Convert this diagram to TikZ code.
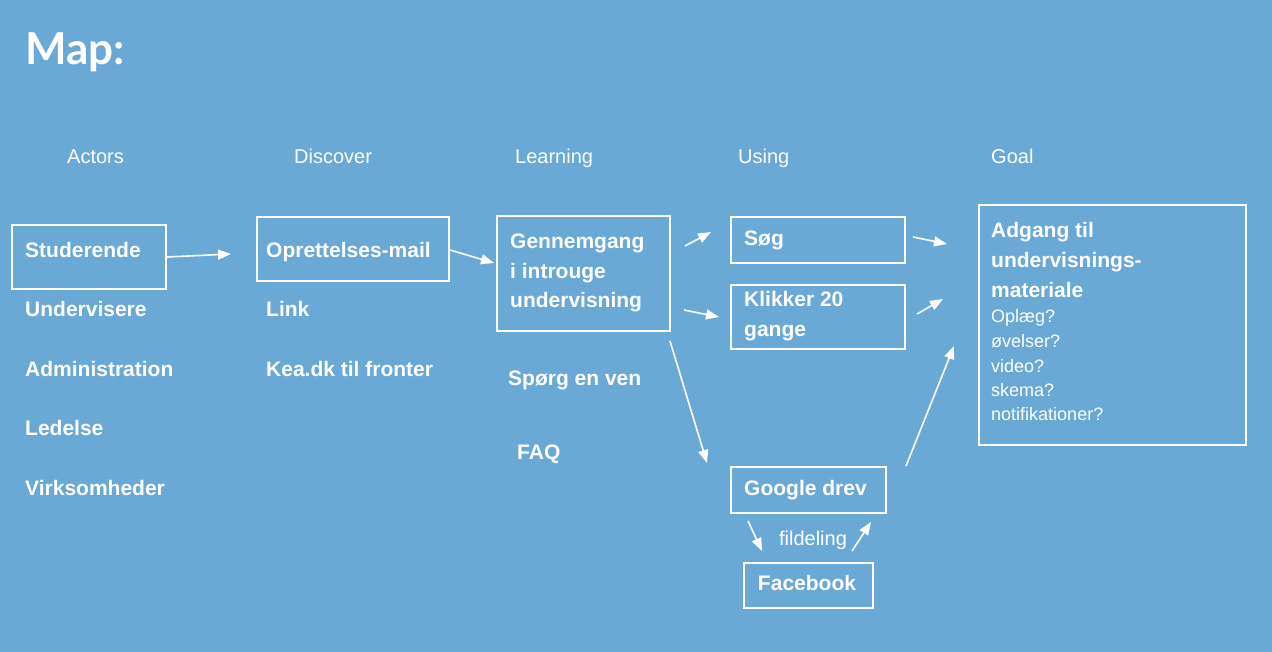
\documentclass[tikz,border=0pt]{standalone}
\usepackage{fontspec}
\setmainfont{Liberation Sans}
\newfontfamily\titlefont{Lato}
\usetikzlibrary{arrows.meta}
\definecolor{bgblue}{RGB}{106,168,214}
\tikzset{
  box/.style={draw=white, line width=1.6pt, inner sep=0, anchor=north west},
  bt/.style={text=white, font=\fontsize{21}{25}\selectfont\bfseries, inner sep=0, anchor=base west},
  ht/.style={text=white, font=\fontsize{20}{24}\selectfont, inner sep=0, anchor=base west},
  st/.style={text=white, font=\fontsize{18}{22}\selectfont, inner sep=0, anchor=base west},
  arr/.style={draw=white, line width=1.6pt, -{Triangle[length=13pt,width=10pt]}},
}
\begin{document}
\begin{tikzpicture}[x=1pt,y=-1pt]
\fill[bgblue] (0,0) rectangle (1272,652);
\useasboundingbox (0,0) rectangle (1272,652);

\node[text=white, font=\titlefont\fontsize{44}{50}\selectfont\bfseries, inner sep=0, anchor=base west] (title) at (25,65) {Map:};

% headers
\node[ht] (hact) at (67,164) {Actors};
\node[ht] (hdis) at (294,164) {Discover};
\node[ht] (hlea) at (515,164) {Learning};
\node[ht] (huse) at (738,164) {Using};
\node[ht] (hgoal) at (991,164) {Goal};

% boxes
\node[box, minimum width=154, minimum height=64] (studbox) at (11,224) {};
\node[box, minimum width=192, minimum height=64] (oprbox) at (256,216) {};
\node[box, minimum width=173, minimum height=115] (genbox) at (496,215) {};
\node[box, minimum width=174, minimum height=46] (sogbox) at (730,216) {};
\node[box, minimum width=174, minimum height=64] (klikbox) at (730,284) {};
\node[box, minimum width=155, minimum height=46] (gdbox) at (730,466) {};
\node[box, minimum width=129, minimum height=45] (fbbox) at (743,562) {};
\node[box, minimum width=267, minimum height=240] (goalbox) at (978,204) {};

% actors
\node[bt] (stud) at (25,258) {Studerende};
\node[bt] (underv) at (25,317) {Undervisere};
\node[bt] (admin) at (25,376) {Administration};
\node[bt] (led) at (25,435) {Ledelse};
\node[bt] (virk) at (25,495) {Virksomheder};

% discover
\node[bt] (opr) at (266,258) {Oprettelses-mail};
\node[bt] (link) at (266,317) {Link};
\node[bt] (kea) at (266,376) {Kea.dk til fronter};

% learning
\node[bt] (gen1) at (510,249) {Gennemgang};
\node[bt] (gen2) at (510,279) {i introuge};
\node[bt] (gen3) at (510,308) {undervisning};
\node[bt] (spoerg) at (508,385) {Spørg en ven};
\node[bt] (faq) at (517,459) {FAQ};

% using
\node[bt] (sog) at (744,246) {Søg};
\node[bt] (klik1) at (744,307) {Klikker 20};
\node[bt] (klik2) at (744,337) {gange};
\node[bt] (gd) at (744,495) {Google drev};
\node[bt, anchor=base] (fb) at (807,590) {Facebook};
\node[ht, anchor=base] (fild) at (813,545) {fildeling};

% goal
\node[bt] (g1) at (991,238) {Adgang til};
\node[bt] (g2) at (991,268) {undervisnings-};
\node[bt] (g3) at (991,298) {materiale};
\node[st] (s1) at (991,323) {Oplæg?};
\node[st] (s2) at (991,348) {øvelser?};
\node[st] (s3) at (991,372) {video?};
\node[st] (s4) at (991,396) {skema?};
\node[st] (s5) at (991,420) {notifikationer?};

% arrow end points
\coordinate (a1s) at (167,257); \coordinate (a1e) at (231,254);
\coordinate (a2s) at (450,250); \coordinate (a2e) at (494,263);
\coordinate (a3s) at (685,246); \coordinate (a3e) at (711,232);
\coordinate (a4s) at (684,310); \coordinate (a4e) at (719,317);
\coordinate (a5s) at (670,341); \coordinate (a5e) at (707,463);
\coordinate (a6s) at (913,237); \coordinate (a6e) at (947,244);
\coordinate (a7s) at (917,314); \coordinate (a7e) at (943,299);
\coordinate (a8s) at (906,466); \coordinate (a8e) at (954,346);
\coordinate (a9s) at (748,521); \coordinate (a9e) at (762,551);
\coordinate (a10s) at (852,551); \coordinate (a10e) at (871,522);

\draw[arr] (a1s) -- (a1e);
\draw[arr] (a2s) -- (a2e);
\draw[arr] (a3s) -- (a3e);
\draw[arr] (a4s) -- (a4e);
\draw[arr] (a5s) -- (a5e);
\draw[arr] (a6s) -- (a6e);
\draw[arr] (a7s) -- (a7e);
\draw[arr] (a8s) -- (a8e);
\draw[arr] (a9s) -- (a9e);
\draw[arr] (a10s) -- (a10e);
\end{tikzpicture}
\end{document}
